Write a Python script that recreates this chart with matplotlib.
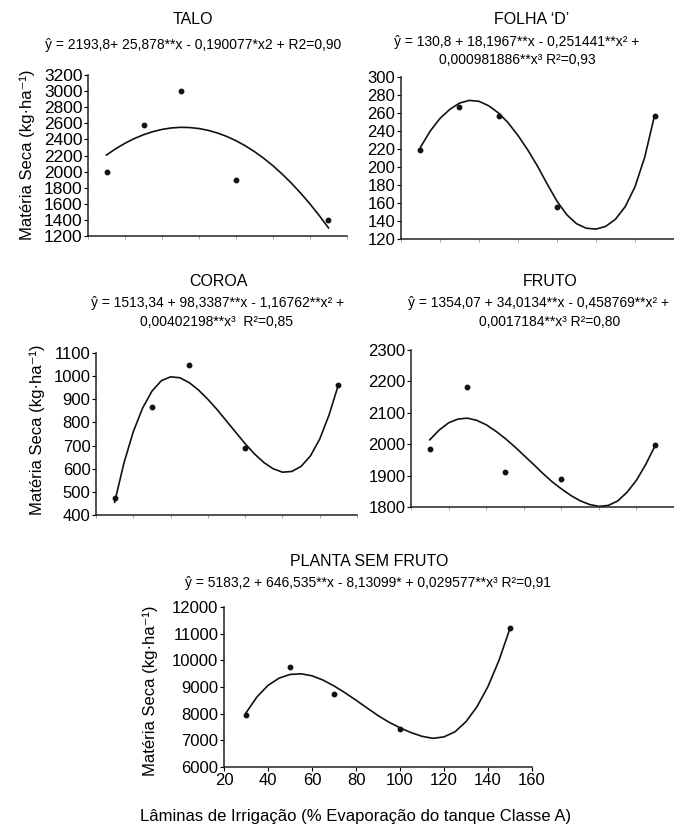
import matplotlib
matplotlib.use('Agg')
import matplotlib.pyplot as plt

plt.rcParams['font.family'] = ['Liberation Sans', 'DejaVu Sans']

W, H = 674, 825

# irrigation levels (x) and measured dry matter for each organ
x_points = [30, 50, 70, 100, 150]
talo_pts = [2000, 2580, 3000, 1900, 1400]
folha_pts = [219, 267, 257, 156, 257]
coroa_pts = [475, 865, 1048, 688, 960]
fruto_pts = [1985, 2181, 1911, 1890, 1996]
planta_pts = [7935, 9750, 8737, 7436, 11223]

# regression curves
curve_x = [30, 35, 40, 45, 50, 55, 60, 65, 70, 75, 80, 85, 90,
           95, 100, 105, 110, 115, 120, 125, 130, 135, 140, 145, 150]
talo_curve = [2206, 2284, 2352, 2410, 2458, 2496, 2524, 2542, 2550, 2547, 2535, 2512, 2479,
              2437, 2384, 2321, 2248, 2165, 2072, 1968, 1855, 1731, 1598, 1454, 1301]
folha_curve = [222, 240, 254, 264, 271, 274, 273, 268, 260, 249, 235, 219, 201,
               181, 162, 147, 137, 132, 131, 134, 142, 156, 178, 211, 257]
coroa_curve = [455, 625, 760, 862, 935, 980, 997, 993, 972, 940, 900, 855, 806,
               757, 708, 664, 627, 600, 585, 588, 610, 655, 728, 832, 962]
fruto_curve = [2014, 2045, 2068, 2080, 2083, 2076, 2062, 2042, 2019, 1993, 1965, 1937, 1908,
               1881, 1858, 1837, 1820, 1808, 1802, 1805, 1819, 1847, 1885, 1936, 1996]
planta_curve = [8030, 8630, 9060, 9330, 9470, 9495, 9420, 9260, 9040, 8785, 8505, 8215, 7930,
                7680, 7470, 7290, 7150, 7075, 7130, 7320, 7700, 8260, 9020, 10000, 11200]

ylabel = 'Matéria Seca (kg·ha⁻¹)'
xlabel = 'Lâminas de Irrigação (% Evaporação do tanque Classe A)'
narrow = ['Liberation Sans Narrow', 'Liberation Sans', 'DejaVu Sans']

fig = plt.figure(figsize=(W / 100, H / 100), dpi=100)


def px_axes(l, t, r, b):
    return fig.add_axes([l / W, 1 - b / H, (r - l) / W, (b - t) / H])


def fig_text(x, y, s, **kw):
    fig.text(x / W, 1 - y / H, s, ha='center', va='center', **kw)


def panel(box, xmax, ylim, ystep, pts, curve, fs, show_x=False):
    ax = px_axes(*box)
    ax.plot(curve_x, curve, color='#111111', lw=1.2, solid_joinstyle='round')
    ax.plot(x_points, pts, 'o', color='#111111', ms=3.2)
    ax.set_xlim(20, xmax)
    ax.set_ylim(*ylim)
    ax.set_yticks(range(ylim[0], ylim[1] + 1, ystep))
    ax.set_xticks([20, 40, 60, 80, 100, 120, 140, 160])
    for s in ['top', 'right']:
        ax.spines[s].set_visible(False)
    for s in ['left', 'bottom']:
        ax.spines[s].set_linewidth(1.1)
        ax.spines[s].set_color('#222222')
    ax.tick_params(axis='y', direction='out', length=3, width=0.8, labelsize=fs, pad=1)
    if show_x:
        ax.tick_params(axis='x', direction='out', length=3, width=0.8, labelsize=fs, pad=1)
    else:
        ax.tick_params(axis='x', direction='out', length=2, width=0.6, color='#999999',
                       labelbottom=False)
    ax.patch.set_alpha(0)
    return ax


# TALO
panel((88, 75, 347, 236), 152.8, (1200, 3200), 200, talo_pts, talo_curve, 12.5)
fig_text(193, 20, 'TALO', fontsize=11.5)
fig_text(193, 45, 'ŷ = 2193,8+ 25,878**x - 0,190077*x2 + R2=0,90', fontsize=10, family=narrow)
fig_text(27, 155, ylabel, rotation=90, fontsize=12)

# FOLHA 'D'
panel((401, 77, 674, 239), 151.9, (120, 300), 20, folha_pts, folha_curve, 12)
fig_text(532, 20, 'FOLHA ‘D’', fontsize=11.5)
fig_text(517, 42, 'ŷ = 130,8 + 18,1967**x - 0,251441**x² +', fontsize=10, family=narrow)
fig_text(517, 60, '0,000981886**x³ R²=0,93', fontsize=10, family=narrow)

# COROA
panel((96, 353, 357, 515), 153.8, (400, 1100), 100, coroa_pts, coroa_curve, 12)
fig_text(218, 282, 'COROA', fontsize=11.5)
fig_text(218, 303, 'ŷ = 1513,34 + 98,3387**x - 1,16762**x² +', fontsize=10, family=narrow)
fig_text(217, 322, '0,00402198**x³  R²=0,85', fontsize=10, family=narrow)
fig_text(37, 430, ylabel, rotation=90, fontsize=12)

# FRUTO
panel((411, 350, 674, 507), 154.9, (1800, 2300), 100, fruto_pts, fruto_curve, 12)
fig_text(550, 282, 'FRUTO', fontsize=11.5)
fig_text(539, 303, 'ŷ = 1354,07 + 34,0134**x - 0,458769**x² +', fontsize=10, family=narrow)
fig_text(550, 322, '0,0017184**x³ R²=0,80', fontsize=10, family=narrow)

# PLANTA SEM FRUTO
panel((224, 607, 532, 767), 160, (6000, 12000), 1000, planta_pts, planta_curve, 12, show_x=True)
fig_text(369, 561, 'PLANTA SEM FRUTO', fontsize=11.5)
fig_text(368, 583, 'ŷ = 5183,2 + 646,535**x - 8,13099* + 0,029577**x³ R²=0,91',
         fontsize=10, family=narrow)
fig_text(150, 691, ylabel, rotation=90, fontsize=12)
fig_text(356, 817, xlabel, fontsize=12)

fig.savefig('out.png', dpi=100, facecolor='white')
